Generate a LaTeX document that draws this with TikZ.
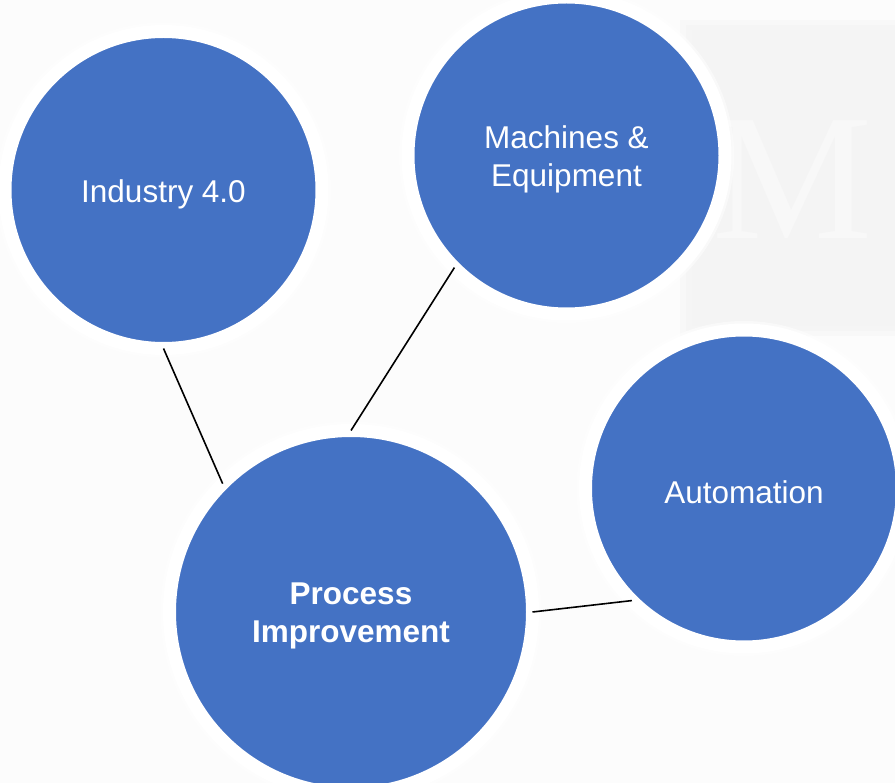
\documentclass[tikz,border=0pt]{standalone}
\usepackage{fontspec}
\setmainfont{Liberation Sans}
\newfontfamily\wmfont{Liberation Serif}
\definecolor{cblue}{HTML}{4472C4}
\definecolor{pagebg}{HTML}{FCFCFC}
\definecolor{wmgray}{HTML}{F4F4F4}
\definecolor{wmtext}{HTML}{F8F8F8}
\tikzset{
  bubble/.style={circle, fill=cblue, draw=white, line width=13pt, inner sep=0pt, outer sep=0pt},
  smallbubble/.style={bubble, minimum size=317pt},
  bigbubble/.style={bubble, minimum size=363pt},
  lbl/.style={text=white, align=center, yshift=-4pt, inner sep=0pt, font=\fontsize{31.5}{38}\selectfont},
  boldlbl/.style={lbl, font=\bfseries\fontsize{31.5}{38}\selectfont},
  link/.style={draw=black, line width=1.6pt},
  halo/.style={circle, fill=white, opacity=0.5, inner sep=0pt}
}
\begin{document}
\begin{tikzpicture}[x=1pt,y=-1pt]
\useasboundingbox (0,0) rectangle (895,783);
\fill[pagebg] (0,0) rectangle (895,783);
% faint watermark panel
\fill[wmgray, opacity=0.4] (680,20) rectangle (895,336);
\fill[wmgray, opacity=0.6] (686,25) rectangle (895,331);
\fill[wmgray] (692,30) rectangle (895,326);
\node[text=wmtext, font=\wmfont\fontsize{180}{180}\selectfont, anchor=west, inner sep=0pt] (wm) at (712,180) {M};
% halos
\node[halo, minimum size=335pt] (h1) at (163.5,190) {};
\node[halo, minimum size=335pt] (h2) at (566.5,155.5) {};
\node[halo, minimum size=335pt] (h3) at (744,488.5) {};
\node[halo, minimum size=381pt] (h4) at (351,612) {};
% bubbles
\node[smallbubble, label={[lbl]center:Industry 4.0}] (ind) at (163.5,190) {};
\node[smallbubble, label={[lbl]center:{Machines \&\\Equipment}}] (mac) at (566.5,155.5) {};
\node[smallbubble, label={[lbl]center:Automation}] (aut) at (744,488.5) {};
\node[bigbubble, label={[boldlbl]center:{Process\\Improvement}}] (pro) at (351,612) {};
% connectors
\draw[link] (ind.-90) -- (pro.135);
\draw[link] (mac.225) -- (pro.90);
\draw[link] (pro.0) -- (aut.225);
\end{tikzpicture}
\end{document}
